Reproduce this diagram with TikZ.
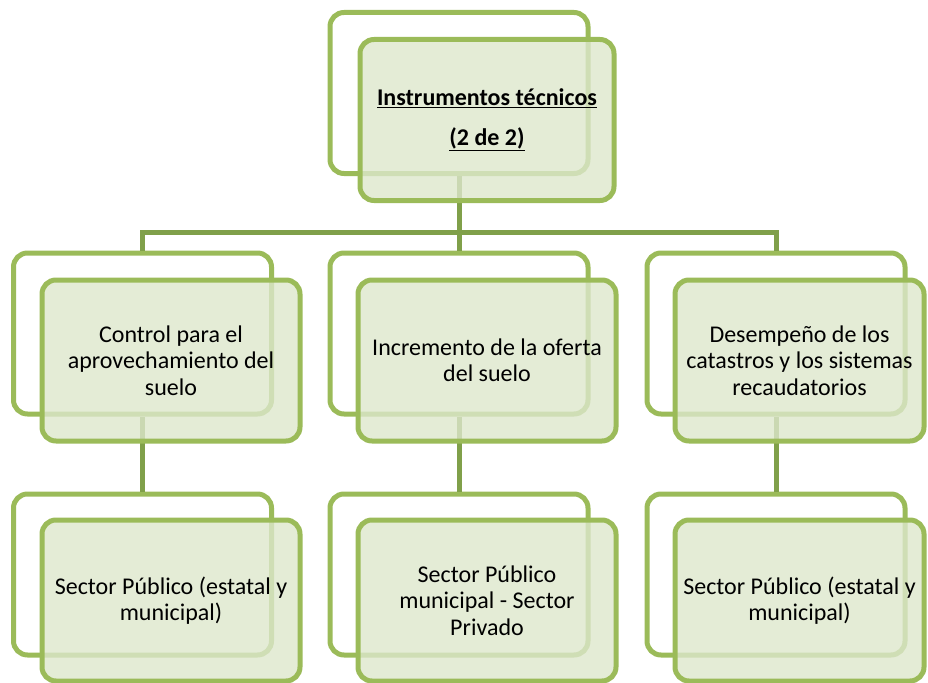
\documentclass[tikz,border=0pt]{standalone}
\usepackage{fontspec}
\setmainfont{Carlito}
\usepackage{tikz}
\definecolor{borde}{HTML}{9BBB59}
\definecolor{relleno}{HTML}{DDE7CC}
\definecolor{linea}{HTML}{80A04A}

\begin{document}
\begin{tikzpicture}[x=1pt,y=-1pt,
  fondo/.style={draw=borde,line width=5pt,rounded corners=14pt,minimum width=258pt,minimum height=161pt,inner sep=0pt},
  frente/.style={fondo,fill=relleno,fill opacity=0.8,text opacity=1,align=center,font=\fontsize{24}{26.5}\selectfont},
  conector/.style={draw=linea,line width=5pt}]
\useasboundingbox (0,0) rectangle (928,682);
\node[fondo] (raizf) at (459,93) {};
\node[fondo] (ctrlf) at (142.5,333.5) {};
\node[fondo] (incf) at (459,333.5) {};
\node[fondo] (desf) at (776,333.5) {};
\node[fondo] (pub1f) at (142.5,574.5) {};
\node[fondo] (pub2f) at (459,574.5) {};
\node[fondo] (pub3f) at (776,574.5) {};
\draw[conector] (raizf.south) -- ++(0,56) -| (ctrlf.north);
\draw[conector] (raizf.south) ++(0,56) -| (desf.north);
\draw[conector] (raizf.south) -- (incf.north);
\draw[conector] (ctrlf.south) -- (pub1f.north);
\draw[conector] (incf.south) -- (pub2f.north);
\draw[conector] (desf.south) -- (pub3f.north);
\node[frente,minimum width=254pt,font=\fontsize{24}{40}\selectfont\bfseries] (raiz) at (487,120) {\underline{Instrumentos técnicos}\\\underline{(2 de 2)}};
\node[frente] (ctrl) at (171,360.5) {Control para el\\aprovechamiento del\\suelo};
\node[frente] (inc) at (487,360.5) {Incremento de la oferta\\del suelo};
\node[frente,minimum width=249pt] (des) at (799.5,360.5) {Desempeño de los\\catastros y los sistemas\\recaudatorios};
\node[frente] (pub1) at (171,600.5) {Sector Público (estatal y\\municipal)};
\node[frente] (pub2) at (487,600.5) {Sector Público\\municipal - Sector\\Privado};
\node[frente,minimum width=249pt] (pub3) at (799.5,600.5) {Sector Público (estatal y\\municipal)};
\end{tikzpicture}
\end{document}
